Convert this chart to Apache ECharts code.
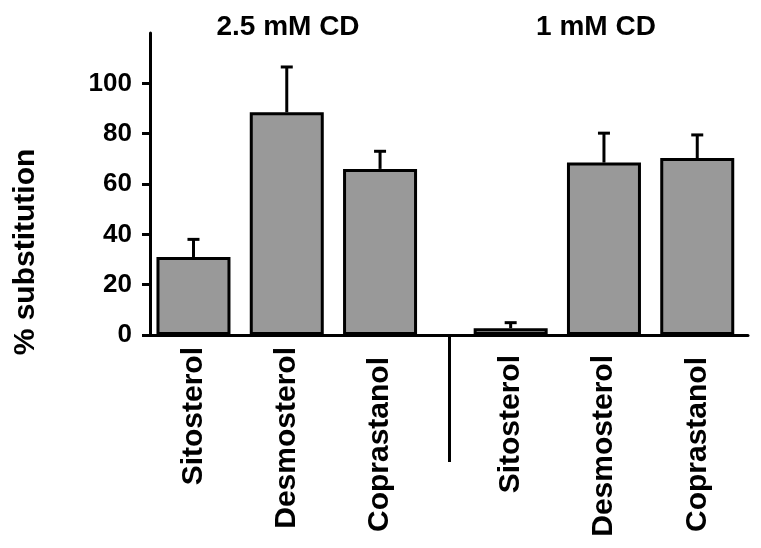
<!DOCTYPE html>
<html>
<head>
<meta charset="utf-8">
<script src="https://cdn.jsdelivr.net/npm/echarts@6/dist/echarts.min.js"></script>
<style>html,body{margin:0;padding:0;background:#fff;}#c{width:761px;height:548px;}</style>
</head>
<body>
<div id="c"></div>
<script>
// ---- data ----
const groups = ['2.5 mM CD', '1 mM CD'];
const categories = ['Sitosterol', 'Desmosterol', 'Coprastanol', 'Sitosterol', 'Desmosterol', 'Coprastanol'];
const groupOf = [0, 0, 0, 1, 1, 1];
const means = [31, 88.5, 66, 2.7, 68.5, 70.3];
const errors = [7, 18, 7, 2.2, 11.7, 9.2];
const yTicks = [0, 20, 40, 60, 80, 100];
const yAxisName = '% substitution';

// ---- layout helpers (not data) ----
const GROUP_GAP = 0.4;
const pos = categories.map((c, i) => i + groupOf[i] * GROUP_GAP);
const dividerPos = 2.74;
const labelShift = [0, 0, 10, 8, 8, 10];
const FONT = '"Liberation Sans", Arial, sans-serif';
const LW = 3;

const rich = {};
labelShift.forEach((s, i) => {
  rich['p' + i] = {padding: [0, s, 0, 0], fontFamily: FONT, fontWeight: 'bold', fontSize: 30, color: '#000'};
});

const chart = echarts.init(document.getElementById('c'), null, {renderer: 'canvas'});
chart.setOption({
  animation: false,
  backgroundColor: '#fff',
  grid: {left: 150, right: 13, top: 33, bottom: 213, containLabel: false},
  xAxis: {
    type: 'value', min: -0.466, max: 5.944,
    axisLine: {show: true, onZero: false, lineStyle: {color: '#000', width: LW}},
    splitLine: {show: false},
    axisTick: {show: true, customValues: [dividerPos], length: 127, inside: false, lineStyle: {color: '#000', width: LW}},
    axisLabel: {
      show: true, customValues: pos, rotate: 90, margin: 12,
      fontFamily: FONT, fontWeight: 'bold', fontSize: 30, color: '#000',
      rich: rich,
      formatter: v => { const i = pos.findIndex(p => Math.abs(p - v) < 1e-6); return i >= 0 ? '{p' + i + '|' + categories[i] + '}' : ''; }
    }
  },
  yAxis: {
    type: 'value', min: 0, max: 120, interval: 20,
    axisLine: {show: true, onZero: false, lineStyle: {color: '#000', width: LW}},
    splitLine: {show: false},
    axisTick: {show: true, customValues: yTicks, length: 8, lineStyle: {color: '#000', width: LW}},
    axisLabel: {show: true, customValues: yTicks, margin: 18, fontFamily: FONT, fontWeight: 'bold', fontSize: 26, color: '#000'}
  },
  graphic: [
    {type: 'text', x: 288, y: 27, style: {text: groups[0], font: 'bold 28px ' + FONT, fill: '#000', textAlign: 'center', textVerticalAlign: 'middle', align: 'center', verticalAlign: 'middle'}},
    {type: 'text', x: 596, y: 27, style: {text: groups[1], font: 'bold 28px ' + FONT, fill: '#000', textAlign: 'center', textVerticalAlign: 'middle', align: 'center', verticalAlign: 'middle'}},
    {type: 'text', x: 26, y: 252, rotation: Math.PI / 2, style: {text: yAxisName, font: 'bold 30px ' + FONT, fill: '#000', textAlign: 'center', textVerticalAlign: 'middle', align: 'center', verticalAlign: 'middle'}}
  ],
  series: [
    {
      type: 'bar', barWidth: 74,
      data: pos.map((p, i) => [p, means[i]]),
      itemStyle: {color: '#999999', borderColor: '#000', borderWidth: LW},
      z: 2
    },
    {
      type: 'custom', z: 3,
      data: pos.map((p, i) => [p, means[i], errors[i]]),
      encode: {x: 0, y: 1},
      renderItem: (params, api) => {
        const x = api.value(0), m = api.value(1), e = api.value(2);
        const b = api.coord([x, m]);
        const t = api.coord([x, m + e]);
        const st = {stroke: '#000', lineWidth: LW};
        return {type: 'group', children: [
          {type: 'line', shape: {x1: b[0], y1: b[1], x2: t[0], y2: t[1]}, style: st},
          {type: 'line', shape: {x1: t[0] - 6, y1: t[1], x2: t[0] + 6, y2: t[1]}, style: st}
        ]};
      }
    }
  ]
});
</script>
</body>
</html>
